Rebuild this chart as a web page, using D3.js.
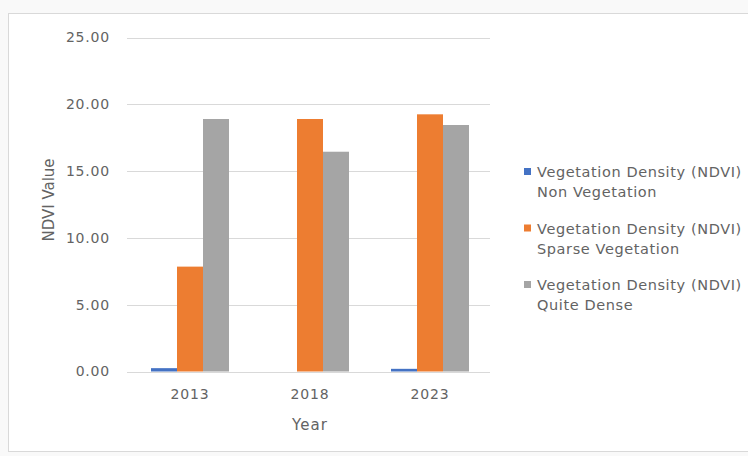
<!DOCTYPE html>
<html>
<head>
<meta charset="utf-8">
<script src="https://cdn.jsdelivr.net/npm/d3@7"></script>
<style>
	body { margin: 0; background: #f9f9f9; }
	svg { display: block; font-family: "DejaVu Sans", sans-serif; }
</style>
</head>
<body>
<div id="chart"></div>
<script>

// chart data
let years = ['2013', '2018', '2023'];
let seriesNames = [
	['Vegetation Density (NDVI)', 'Non Vegetation'],
	['Vegetation Density (NDVI)', 'Sparse Vegetation'],
	['Vegetation Density (NDVI)', 'Quite Dense']
];
let nonVeg = [0.25, 0, 0.20];
let sparseVeg = [7.85, 18.90, 19.25];
let quiteDense = [18.90, 16.45, 18.45];
let yTicks = [0, 5, 10, 15, 20, 25];

let colors = ['#4472c4', '#ed7d31', '#a5a5a5'];
let series = [nonVeg, sparseVeg, quiteDense];

let width = 748, height = 456;
let textColor = '#636363';

let svg = d3.select('#chart').append('svg')
	.attr('width', width)
	.attr('height', height);

// chart frame
svg.append('rect')
	.attr('x', 8.5)
	.attr('y', 13.5)
	.attr('width', 760)
	.attr('height', 438)
	.attr('fill', '#ffffff')
	.attr('stroke', '#d9d9d9')
	.attr('stroke-width', 1);

let plot = { left: 130, right: 490, top: 37.5, bottom: 371.5 };

let x = d3.scaleBand()
	.domain(years)
	.range([plot.left, plot.right]);

let xInner = d3.scaleBand()
	.domain(d3.range(series.length))
	.range([0, 78]);

let y = d3.scaleLinear()
	.domain([0, 25])
	.range([plot.bottom, plot.top]);

// gridlines
svg.append('g')
	.selectAll('line')
	.data(yTicks)
	.enter()
	.append('line')
	.attr('x1', plot.left - 3)
	.attr('x2', plot.right)
	.attr('y1', d => Math.round(y(d)) + 0.5)
	.attr('y2', d => Math.round(y(d)) + 0.5)
	.attr('stroke', '#d9d9d9')
	.attr('stroke-width', 1);

// y axis labels
let yAxis = d3.axisLeft(y)
	.tickValues(yTicks)
	.tickFormat(d3.format('.2f'))
	.tickSize(0)
	.tickPadding(17);

svg.append('g')
	.attr('transform', `translate(${plot.left - 3}, 0)`)
	.call(yAxis)
	.call(g => g.select('.domain').remove())
	.selectAll('text')
	.attr('font-size', 14)
	.attr('letter-spacing', 0.8)
	.attr('font-family', '"DejaVu Sans", sans-serif')
	.attr('fill', textColor);

// bars
for(let s = 0; s < series.length; s++)
{
	svg.append('g')
		.selectAll('rect')
		.data(series[s])
		.enter()
		.append('rect')
		.attr('x', (d,i) => x(years[i]) + (x.bandwidth() - 78) / 2 + xInner(s))
		.attr('y', d => y(d))
		.attr('width', xInner.bandwidth())
		.attr('height', d => y(0) - y(d))
		.attr('fill', colors[s]);
}

// x axis
let xAxis = d3.axisBottom(x)
	.tickSize(0)
	.tickPadding(18);

svg.append('g')
	.attr('transform', `translate(0, ${plot.bottom})`)
	.call(xAxis)
	.call(g => g.select('.domain').remove())
	.selectAll('text')
	.attr('font-size', 14)
	.attr('letter-spacing', 0.8)
	.attr('font-family', '"DejaVu Sans", sans-serif')
	.attr('fill', textColor);

// axis titles
svg.append('text')
	.attr('x', (plot.left + plot.right) / 2)
	.attr('y', 430)
	.attr('text-anchor', 'middle')
	.attr('font-size', 15)
	.attr('letter-spacing', 1)
	.attr('fill', textColor)
	.text('Year');

svg.append('text')
	.attr('transform', `translate(54, 200) rotate(-90)`)
	.attr('text-anchor', 'middle')
	.attr('font-size', 15)
	.attr('fill', textColor)
	.text('NDVI Value');

// legend
let legend = svg.append('g')
	.selectAll('g')
	.data(seriesNames)
	.enter()
	.append('g')
	.attr('transform', (d,i) => `translate(524, ${168 + i * 56.5})`);

legend.append('rect')
	.attr('width', 7)
	.attr('height', 7)
	.attr('fill', (d,i) => colors[i]);

legend.append('text')
	.attr('x', 13)
	.attr('y', 9)
	.attr('font-size', 14.5)
	.attr('letter-spacing', 0.6)
	.attr('fill', textColor)
	.text(d => d[0]);

legend.append('text')
	.attr('x', 13)
	.attr('y', 29)
	.attr('font-size', 14.5)
	.attr('letter-spacing', 0.6)
	.attr('fill', textColor)
	.text(d => d[1]);

</script>
</body>
</html>
